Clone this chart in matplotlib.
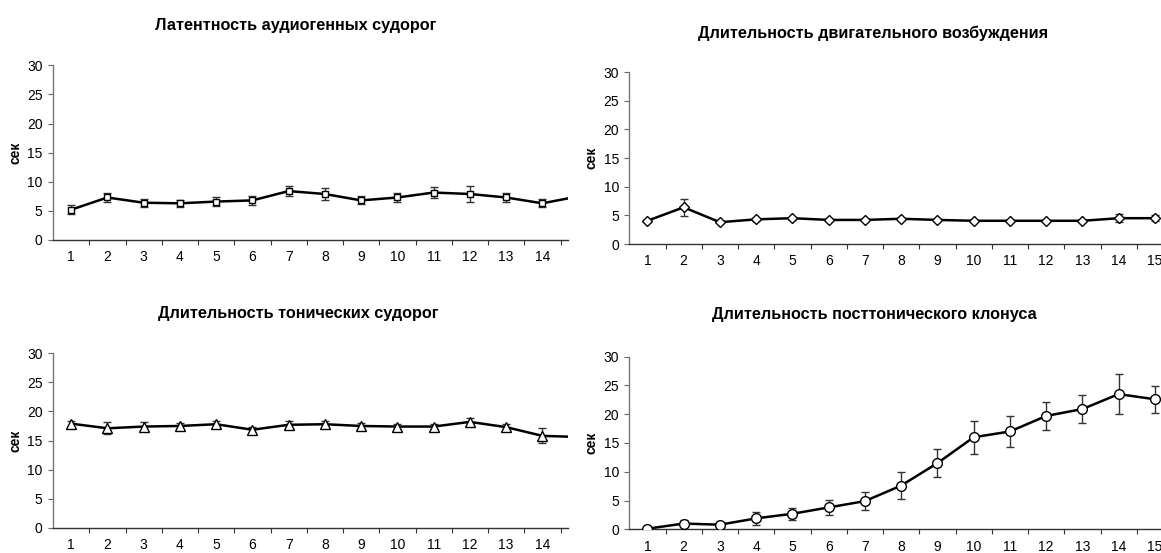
import matplotlib
matplotlib.use("Agg")
import matplotlib.pyplot as plt
from matplotlib.ticker import FixedLocator, NullFormatter, FixedFormatter

plt.rcParams['font.family'] = ['Liberation Sans', 'DejaVu Sans']

sessions = list(range(1, 16))
session_labels = [str(s) for s in sessions]

latency_mean = [5.2, 7.3, 6.4, 6.3, 6.6, 6.8, 8.4, 7.9, 6.8, 7.3, 8.15, 7.9, 7.3, 6.3, 7.5]
latency_err = [0.8, 0.8, 0.7, 0.65, 0.8, 0.75, 0.85, 1.05, 0.7, 0.8, 0.9, 1.35, 0.85, 0.7, 0.7]

motor_mean = [4.05, 6.4, 3.8, 4.3, 4.5, 4.2, 4.2, 4.4, 4.2, 4.05, 4.05, 4.05, 4.05, 4.5, 4.5]
motor_err = [0.2, 1.5, 0.2, 0.25, 0.25, 0.2, 0.2, 0.2, 0.2, 0.2, 0.2, 0.2, 0.2, 0.7, 0.5]

tonic_mean = [17.9, 17.1, 17.4, 17.5, 17.8, 16.85, 17.7, 17.8, 17.5, 17.4, 17.4, 18.2, 17.3, 15.8, 15.6]
tonic_err = [0.5, 1.05, 0.8, 0.5, 0.5, 0.5, 0.6, 0.5, 0.5, 0.5, 0.5, 0.6, 0.5, 1.3, 0.8]

clonus_mean = [0.1, 1.0, 0.8, 1.9, 2.7, 3.8, 4.9, 7.6, 11.5, 16.0, 17.0, 19.7, 20.9, 23.5, 22.6]
clonus_err = [0.2, 0.6, 0.4, 1.15, 1.0, 1.3, 1.5, 2.3, 2.4, 2.9, 2.7, 2.5, 2.4, 3.5, 2.3]

titles = [
    "Латентность аудиогенных судорог",
    "Длительность двигательного возбуждения",
    "Длительность тонических судорог",
    "Длительность посттонического клонуса",
]

W, H = 1161, 553
fig = plt.figure(figsize=(W / 100, H / 100), dpi=100)


def px_axes(left, right, top, bottom):
    return fig.add_axes([left / W, 1 - bottom / H, (right - left) / W, (bottom - top) / H])


STEP = 36.25

panels = [
    # (axes box in px, title centre, ylabel x, data, marker, marker size)
    ((53, 568, 65.3, 240), (296, 25.5), 16, latency_mean, latency_err, 's', 5.0),
    ((629.3, 1161, 72, 244), (873, 33.5), 591, motor_mean, motor_err, 'D', 5.2),
    ((53, 568, 353.3, 527.7), (298, 313.5), 16, tonic_mean, tonic_err, '^', 6.5),
    ((629.3, 1161, 356.7, 529.3), (874, 315), 591, clonus_mean, clonus_err, 'o', 7.0),
]

for (box, tpos, ylx, means, errs, mk, ms), title in zip(panels, titles):
    left, right, top, bottom = box
    ax = px_axes(left, right, top, bottom)
    ax.errorbar(sessions, means, yerr=errs, fmt='none', ecolor='#333333',
                elinewidth=1.0, capsize=2.7, capthick=1.0, zorder=2)
    ax.plot(sessions, means, color='black', lw=1.8, marker=mk, ms=ms,
            mfc='white', mec='black', mew=1.0, zorder=3)
    ax.set_xlim(0.5, 0.5 + (right - left) / STEP)
    ax.set_ylim(0, 30)
    ax.set_yticks(range(0, 31, 5))
    ax.tick_params(axis='y', labelsize=10, length=3.5, width=0.8, color='#666666', pad=4)
    ax.xaxis.set_major_locator(FixedLocator([s + 0.5 for s in sessions]))
    ax.xaxis.set_major_formatter(NullFormatter())
    ax.xaxis.set_minor_locator(FixedLocator(sessions))
    ax.xaxis.set_minor_formatter(FixedFormatter(session_labels))
    ax.tick_params(axis='x', which='major', length=3.5, width=0.8, color='#333333')
    ax.tick_params(axis='x', which='minor', length=0, labelsize=10, pad=7.5)
    for s in ('top', 'right'):
        ax.spines[s].set_visible(False)
    ax.spines['left'].set_color('#777777')
    ax.spines['left'].set_linewidth(1.0)
    ax.spines['bottom'].set_color('#333333')
    ax.spines['bottom'].set_linewidth(1.0)
    ax.patch.set_alpha(0)

    fig.text(tpos[0] / W, 1 - tpos[1] / H, title, ha='center', va='center',
             fontsize=11.7, fontweight='bold')
    fig.text(ylx / W, 1 - ((top + bottom) / 2) / H, "сек", ha='center', va='center',
             rotation=90, fontsize=10, fontweight='bold')

fig.savefig("out.png", dpi=100, facecolor='white')
